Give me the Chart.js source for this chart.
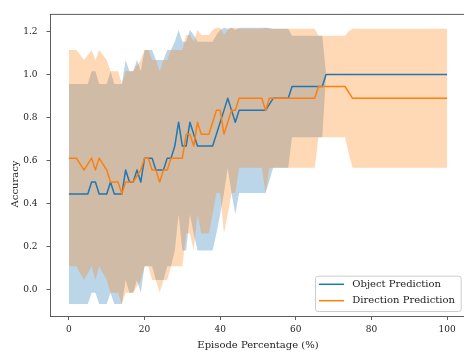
<!DOCTYPE html>
<html><head><meta charset="utf-8">
<script src="https://cdn.jsdelivr.net/npm/chart.js@4.4.1/dist/chart.umd.min.js"></script>
<style>html,body{margin:0;padding:0;overflow:hidden;background:#fff;width:464px;height:354px}canvas{display:block}</style>
</head><body>
<canvas id="c" width="470" height="354" style="width:470px;height:354px"></canvas>
<script>
const episodePct = [0,1,2,3,4,5,6,7,8,9,10,11,12,13,14,15,16,17,18,19,20,21,22,23,24,25,26,27,28,29,30,31,32,33,34,35,36,37,38,39,40,41,42,43,44,45,46,47,48,49,50,51,52,53,54,55,56,57,58,59,60,61,62,63,64,65,66,67,68,69,70,71,72,73,74,75,76,77,78,79,80,81,82,83,84,85,86,87,88,89,90,91,92,93,94,95,96,97,98,99,100];

const objectMean = [
0.444,0.444,0.444,0.444,0.444,0.444,0.5,0.5,0.444,0.444,
0.444,0.5,0.444,0.444,0.444,0.556,0.5,0.5,0.556,0.5,
0.611,0.611,0.611,0.556,0.556,0.556,0.611,0.611,0.667,0.778,
0.667,0.667,0.778,0.722,0.667,0.667,0.667,0.667,0.667,0.722,
0.778,0.833,0.889,0.833,0.778,0.833,0.833,0.833,0.833,0.833,
0.833,0.833,0.833,0.861,0.889,0.889,0.889,0.889,0.889,0.944,
0.944,0.944,0.944,0.944,0.944,0.944,0.944,0.944,1,1,
1,1,1,1,1,1,1,1,1,1,
1,1,1,1,1,1,1,1,1,1,
1,1,1,1,1,1,1,1,1,1,
1];
const objectStd = [
0.511,0.511,0.511,0.511,0.511,0.511,0.515,0.515,0.511,0.511,
0.511,0.515,0.511,0.511,0.511,0.511,0.515,0.515,0.511,0.515,
0.502,0.502,0.502,0.511,0.511,0.511,0.502,0.502,0.485,0.428,
0.485,0.485,0.428,0.461,0.485,0.485,0.485,0.485,0.485,0.461,
0.428,0.384,0.323,0.384,0.428,0.384,0.384,0.384,0.384,0.384,
0.384,0.384,0.384,0.355,0.323,0.323,0.323,0.323,0.323,0.236,
0.236,0.236,0.236,0.236,0.236,0.236,0.236,0.236,0,0,
0,0,0,0,0,0,0,0,0,0,
0,0,0,0,0,0,0,0,0,0,
0,0,0,0,0,0,0,0,0,0,
0];
const directionMean = [
0.611,0.611,0.611,0.583,0.556,0.583,0.611,0.556,0.611,0.583,
0.556,0.5,0.5,0.5,0.444,0.5,0.5,0.5,0.528,0.556,
0.611,0.611,0.556,0.556,0.5,0.556,0.556,0.611,0.611,0.611,
0.611,0.722,0.722,0.667,0.778,0.722,0.722,0.722,0.778,0.833,
0.833,0.722,0.778,0.833,0.833,0.889,0.889,0.889,0.889,0.889,
0.889,0.889,0.833,0.889,0.889,0.889,0.889,0.889,0.889,0.889,
0.889,0.889,0.889,0.889,0.889,0.889,0.944,0.944,0.944,0.944,
0.944,0.944,0.944,0.944,0.917,0.889,0.889,0.889,0.889,0.889,
0.889,0.889,0.889,0.889,0.889,0.889,0.889,0.889,0.889,0.889,
0.889,0.889,0.889,0.889,0.889,0.889,0.889,0.889,0.889,0.889,
0.889];
const directionStd = [
0.502,0.502,0.502,0.507,0.511,0.507,0.502,0.511,0.502,0.507,
0.511,0.515,0.515,0.515,0.511,0.515,0.515,0.515,0.514,0.511,
0.502,0.502,0.511,0.511,0.515,0.511,0.511,0.502,0.502,0.502,
0.502,0.461,0.461,0.485,0.428,0.461,0.461,0.461,0.428,0.384,
0.384,0.461,0.428,0.384,0.384,0.323,0.323,0.323,0.323,0.323,
0.323,0.323,0.384,0.323,0.323,0.323,0.323,0.323,0.323,0.323,
0.323,0.323,0.323,0.323,0.323,0.323,0.236,0.236,0.236,0.236,
0.236,0.236,0.236,0.236,0.284,0.323,0.323,0.323,0.323,0.323,
0.323,0.323,0.323,0.323,0.323,0.323,0.323,0.323,0.323,0.323,
0.323,0.323,0.323,0.323,0.323,0.323,0.323,0.323,0.323,0.323,
0.323];

const seriesNames = ['Object Prediction', 'Direction Prediction'];
const xTicks = [0, 20, 40, 60, 80, 100];
const yTicks = [0.0, 0.2, 0.4, 0.6, 0.8, 1.0, 1.2];
const xTitle = 'Episode Percentage (%)';
const yTitle = 'Accuracy';

const BLUE = '#1f77b4', ORANGE = '#ff7f0e';
const LABEL_FONT = '10px "DejaVu Serif"';

function pts(mean, std, sign) {
  return episodePct.map((x, i) => ({x: x, y: mean[i] + sign * std[i]}));
}

const bandStyle = {pointRadius: 0, borderWidth: 0, borderColor: 'rgba(0,0,0,0)', tension: 0};

const decor = {
  id: 'decor',
  afterDraw(chart) {
    const ctx = chart.ctx, a = chart.chartArea;
    ctx.save();
    ctx.strokeStyle = '#333'; ctx.lineWidth = 0.8;
    ctx.beginPath(); ctx.moveTo(a.left, a.top); ctx.lineTo(a.right, a.top); ctx.lineTo(a.right, a.bottom); ctx.stroke();
    ctx.fillStyle = '#222'; ctx.font = LABEL_FONT;
    ctx.textAlign = 'center'; ctx.textBaseline = 'middle';
    ctx.fillText(xTitle, (a.left + a.right) / 2, 345);
    ctx.translate(15.7, 184); ctx.rotate(-Math.PI / 2);
    ctx.fillText(yTitle, 0, 0);
    ctx.restore();
    ctx.save();
    const lx = 315, ly = 275.7, lw = 145.7, lh = 35.3;
    ctx.fillStyle = 'rgba(255,255,255,0.8)'; ctx.strokeStyle = '#cccccc'; ctx.lineWidth = 1;
    ctx.beginPath(); ctx.roundRect(lx + 0.5, ly + 0.5, lw, lh, 2.5); ctx.fill(); ctx.stroke();
    const colors = [BLUE, ORANGE], ys = [284.3, 300.7];
    ctx.font = LABEL_FONT; ctx.textAlign = 'left'; ctx.textBaseline = 'middle'; ctx.fillStyle = '#222';
    seriesNames.forEach((n, i) => {
      ctx.strokeStyle = colors[i]; ctx.lineWidth = 1.5;
      ctx.beginPath(); ctx.moveTo(319, ys[i]); ctx.lineTo(344, ys[i]); ctx.stroke();
      ctx.fillText(n, 352.3, ys[i]);
    });
    ctx.restore();
  }
};

new Chart(document.getElementById('c'), {
  type: 'line',
  data: {
    datasets: [
      Object.assign({label: 'objUpper', data: pts(objectMean, objectStd, 1), fill: 1, backgroundColor: 'rgba(31,119,180,0.3)', order: 4}, bandStyle),
      Object.assign({label: 'objLower', data: pts(objectMean, objectStd, -1), fill: false, order: 4}, bandStyle),
      Object.assign({label: 'dirUpper', data: pts(directionMean, directionStd, 1), fill: 3, backgroundColor: 'rgba(255,127,14,0.3)', order: 3}, bandStyle),
      Object.assign({label: 'dirLower', data: pts(directionMean, directionStd, -1), fill: false, order: 3}, bandStyle),
      {label: seriesNames[0], data: episodePct.map((x, i) => ({x: x, y: objectMean[i]})), borderColor: BLUE, borderWidth: 1.5, pointRadius: 0, fill: false, tension: 0, borderJoinStyle: 'round', order: 2},
      {label: seriesNames[1], data: episodePct.map((x, i) => ({x: x, y: directionMean[i]})), borderColor: ORANGE, borderWidth: 1.5, pointRadius: 0, fill: false, tension: 0, borderJoinStyle: 'round', order: 1}
    ]
  },
  options: {
    responsive: false, animation: false, devicePixelRatio: 1,
    layout: {padding: {top: 6.7, left: 0, right: 4, bottom: 0}},
    plugins: {legend: {display: false}, tooltip: {enabled: false}},
    scales: {
      x: {
        type: 'linear', min: -5, max: 105,
        afterFit(s) { s.height = 37.5; },
        afterBuildTicks(s) { s.ticks = xTicks.map(v => ({value: v})); },
        ticks: {autoSkip: false, maxRotation: 0, padding: 4, color: '#222', font: {family: 'DejaVu Serif', size: 9}, callback: v => String(v)},
        grid: {drawOnChartArea: false, drawTicks: true, tickLength: 3.5, color: '#333', lineWidth: 0.8},
        border: {display: true, color: '#333', width: 0.8}
      },
      y: {
        type: 'linear', min: -0.125, max: 1.279,
        afterFit(s) { s.width = 50; },
        afterBuildTicks(s) { s.ticks = yTicks.map(v => ({value: v})); },
        ticks: {autoSkip: false, padding: 9, color: '#222', font: {family: 'DejaVu Serif', size: 9}, callback: v => Number(v).toFixed(1)},
        grid: {drawOnChartArea: false, drawTicks: true, tickLength: 3.5, color: '#333', lineWidth: 0.8},
        border: {display: true, color: '#333', width: 0.8}
      }
    }
  },
  plugins: [decor]
});
</script>
</body></html>
